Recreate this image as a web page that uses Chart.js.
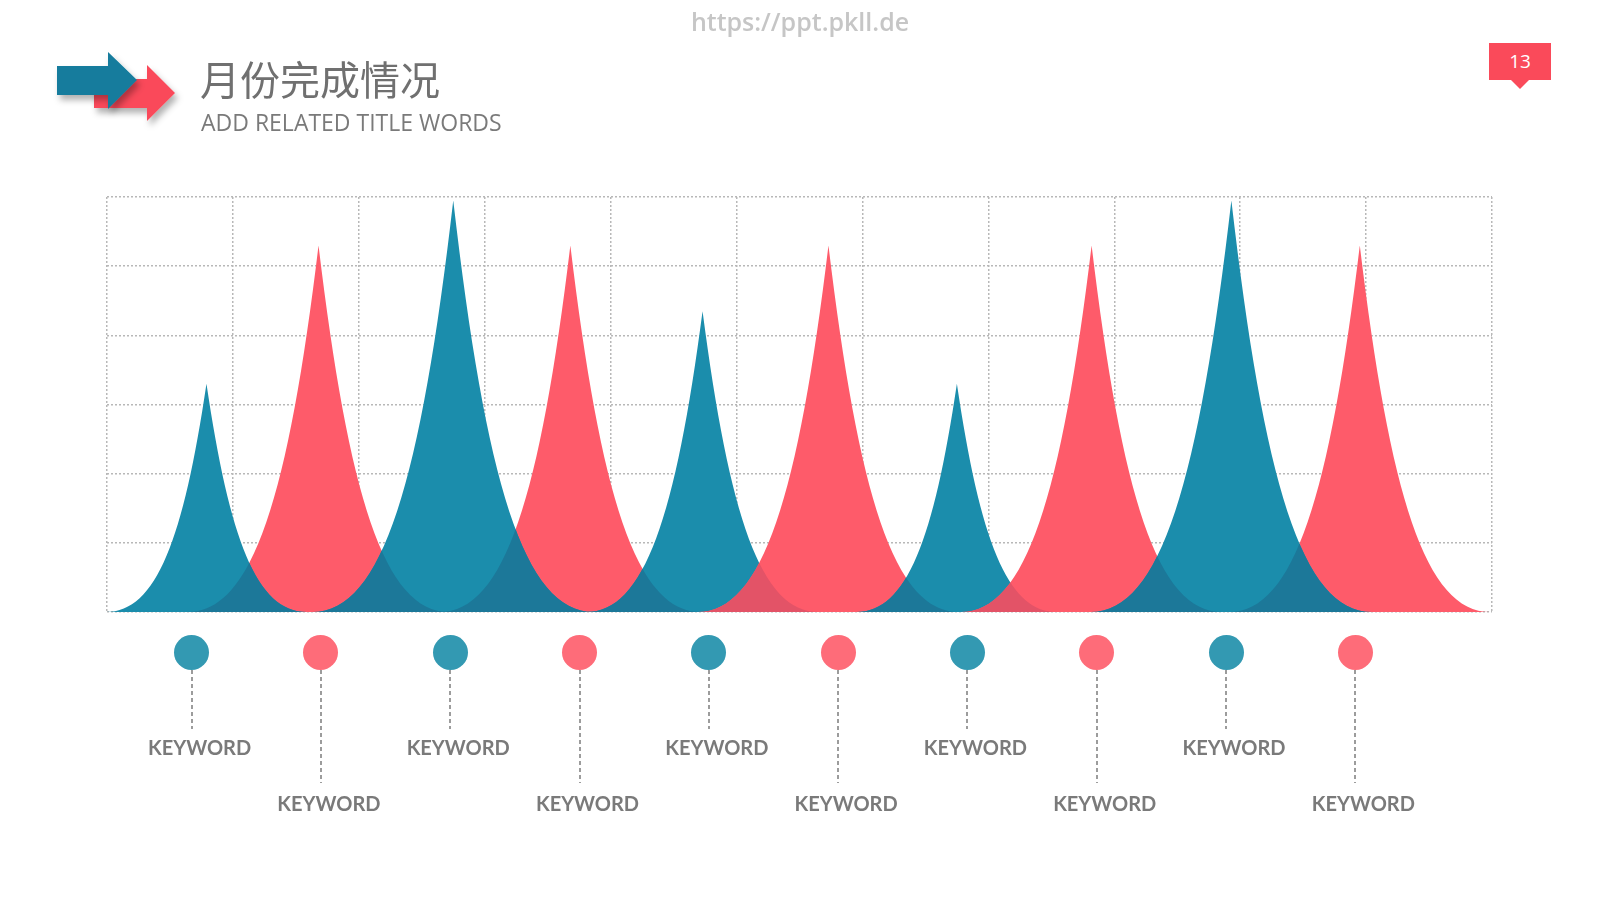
<!DOCTYPE html>
<html>
<head>
<meta charset="utf-8">
<script src="https://cdn.jsdelivr.net/npm/chart.js@4.4.0/dist/chart.umd.min.js"></script>
<style>
  html, body { margin: 0; padding: 0; background: #fff; }
  body { width: 1600px; height: 900px; position: relative; overflow: hidden; font-family: Lato, "Open Sans", sans-serif; }
  #myChart { position: absolute; left: 0; top: 0; }
  .watermark { position: absolute; left: 0; width: 1600px; top: 4px; text-align: center; font: 600 25px "Open Sans", sans-serif; color: #c6c6c6; }
  .title { position: absolute; left: 200px; top: 54px; font: 40px "Noto Sans CJK SC", sans-serif; color: #707070; line-height: 48px; }
  .subtitle { position: absolute; left: 201px; top: 108px; font: 400 23px "Open Sans", sans-serif; color: #7a7a7a; line-height: 28px; }
  .badge { position: absolute; left: 1489px; top: 43px; width: 62px; height: 37px; background: #fa4a5a; color: #fff; font: 19px "Open Sans", sans-serif; text-align: center; line-height: 37px; }
  .badge:after { content: ""; position: absolute; left: 22px; top: 37px; border-left: 9px solid transparent; border-right: 9px solid transparent; border-top: 9px solid #fa4a5a; }
  #markers { position: absolute; left: 127px; top: 635px; width: 1293px; height: 200px; display: flex; }
  .item { flex: 1; position: relative; }
  .dot { position: absolute; left: 50%; top: 0; width: 35px; height: 35px; margin-left: -17.5px; border-radius: 50%; }
  .stem { position: absolute; left: 50%; top: 35px; width: 2px; margin-left: -1px; background: repeating-linear-gradient(#9c9c9c 0 4px, transparent 4px 7px); }
  .kw { position: absolute; left: 50%; width: 160px; margin-left: -72px; text-align: center; font: bold 20px Lato, sans-serif; color: #7a7a7a; line-height: 24px; }
</style>
</head>
<body>
<canvas id="myChart" width="1600" height="900"></canvas>
<div class="watermark">https://ppt.pkll.de</div>
<svg style="position:absolute;left:0;top:0" width="220" height="150">
  <defs>
    <filter id="sh" x="-20%" y="-20%" width="150%" height="160%">
      <feDropShadow dx="3" dy="5" stdDeviation="3" flood-color="#000" flood-opacity="0.3"/>
    </filter>
  </defs>
  <polygon filter="url(#sh)" fill="#fa4a5a" points="94,79 147,79 147,65 175,93 147,121 147,108 94,108"/>
  <polygon filter="url(#sh)" fill="#137c9d" points="57,66 108,66 108,52 137,80 108,109 108,95 57,95"/>
</svg>
<div class="title">月份完成情况</div>
<div class="subtitle">ADD RELATED TITLE WORDS</div>
<div class="badge">13</div>
<div id="markers"></div>
<script>
var keywords = ["KEYWORD", "KEYWORD", "KEYWORD", "KEYWORD", "KEYWORD",
                "KEYWORD", "KEYWORD", "KEYWORD", "KEYWORD", "KEYWORD"];
// where each peak sits on the 0..11 grid
var peakX = [0.79, 1.68, 2.75, 3.68, 4.73, 5.73, 6.75, 7.82, 8.93, 9.95];
var tealValues = [3.3, 5.95, 4.35, 3.3, 5.95];
var redValues = [5.3, 5.3, 5.3, 5.3, 5.3];
var xMax = 11;
var yMax = 6;

var tealColor = "#1b8dac", tealDark = "#1c7899";
var redColor = "#fe5b6a", redDark = "#e35367";
// which spike goes on top of which (index into the 10 spikes)
var drawOrder = [1, 3, 9, 0, 2, 4, 5, 6, 7, 8];

var spikePlugin = {
  id: "spikes",
  afterDatasetsDraw: function (chart) {
    var ctx = chart.ctx;
    var base = chart.scales.y.getPixelForValue(0);
    var spikes = [];
    chart.data.datasets.forEach(function (ds, di) {
      chart.getDatasetMeta(di).data.forEach(function (pt, i) {
        spikes[i * 2 + di] = { x: pt.x, y: pt.y, color: ds.spikeColor, dark: ds.overlapColor };
      });
    });
    function path(s) {
      var h = base - s.y, w = 0.22 * h + 50;
      ctx.beginPath();
      ctx.moveTo(s.x - w, base);
      ctx.bezierCurveTo(s.x - 0.5 * w, base, s.x - 0.23 * w, base - 0.32 * h, s.x, s.y);
      ctx.bezierCurveTo(s.x + 0.23 * w, base - 0.32 * h, s.x + 0.5 * w, base, s.x + w, base);
      ctx.closePath();
    }
    ctx.save();
    var drawn = [];
    drawOrder.forEach(function (k) {
      var s = spikes[k];
      path(s);
      ctx.fillStyle = s.color;
      ctx.fill();
      drawn.forEach(function (p) {
        ctx.save();
        path(s);
        ctx.clip();
        path(p);
        ctx.fillStyle = s.dark;
        ctx.fill();
        ctx.restore();
      });
      drawn.push(s);
    });
    ctx.restore();
  }
};

var gridOpts = { color: "#b8b8b8", lineWidth: 1.5, drawTicks: false };
var borderOpts = { display: false, dash: [2, 2] };

new Chart("myChart", {
  type: "scatter",
  data: {
    datasets: [{
      label: "teal",
      data: tealValues.map(function (v, i) { return { x: peakX[i * 2], y: v }; }),
      spikeColor: tealColor,
      overlapColor: tealDark,
      pointRadius: 0
    }, {
      label: "red",
      data: redValues.map(function (v, i) { return { x: peakX[i * 2 + 1], y: v }; }),
      spikeColor: redColor,
      overlapColor: redDark,
      pointRadius: 0
    }]
  },
  options: {
    responsive: false,
    animation: false,
    events: [],
    devicePixelRatio: 1,
    layout: { autoPadding: false, padding: { left: 107, top: 197, right: 108, bottom: 288 } },
    plugins: { legend: { display: false }, tooltip: { enabled: false } },
    scales: {
      x: { type: "linear", min: 0, max: xMax, ticks: { display: false, stepSize: 1 }, grid: gridOpts, border: borderOpts },
      y: { type: "linear", min: 0, max: yMax, ticks: { display: false, stepSize: 1 }, grid: gridOpts, border: borderOpts }
    }
  },
  plugins: [spikePlugin]
});

// keyword markers under the chart
var markers = document.getElementById("markers");
keywords.forEach(function (k, i) {
  var low = i % 2 == 1;
  var item = document.createElement("div");
  item.className = "item";
  item.innerHTML =
    '<div class="dot" style="background:' + (low ? "#fe6c79" : "#3399b2") + '"></div>' +
    '<div class="stem" style="height:' + (low ? 113 : 59) + 'px"></div>' +
    '<div class="kw" style="top:' + (low ? 156 : 100) + 'px">' + k + '</div>';
  markers.appendChild(item);
});
</script>
</body>
</html>
